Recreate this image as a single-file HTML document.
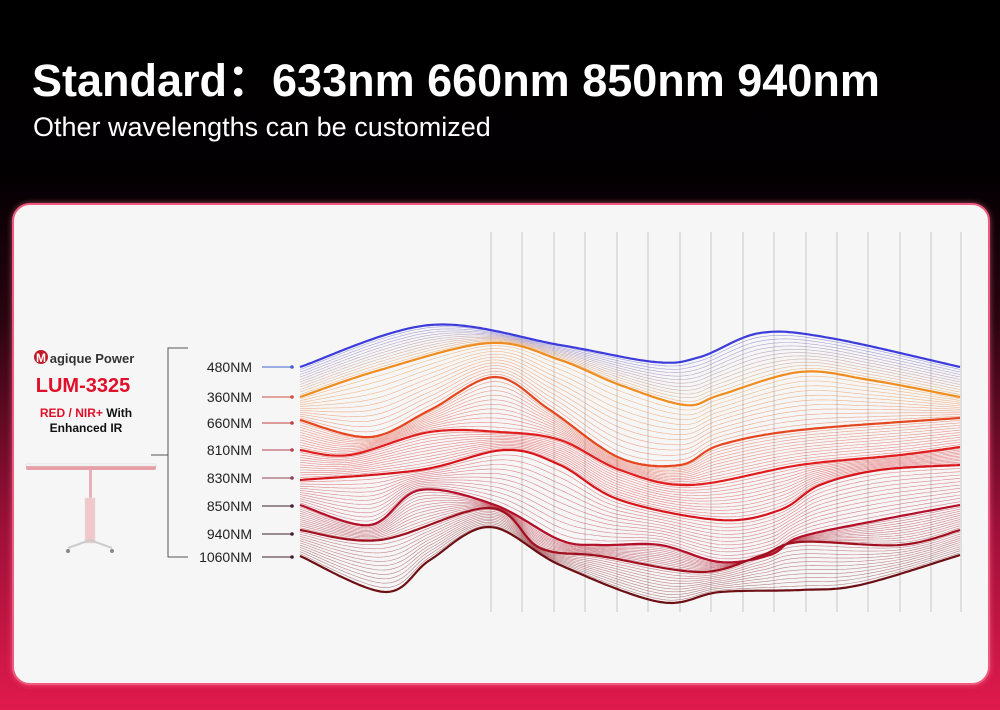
<!DOCTYPE html>
<html><head><meta charset="utf-8"><style>
html,body{margin:0;padding:0;}
body{width:1000px;height:710px;overflow:hidden;position:relative;font-family:"Liberation Sans",Arial,sans-serif;
background:linear-gradient(180deg,#000 0%,#030002 25%,#2a0410 45%,#a0103a 75%,#e01a4c 100%);}
.t1{position:absolute;left:32px;top:44px;color:#fff;font-weight:bold;font-size:45px;white-space:nowrap;font-family:"Liberation Sans","Noto Sans CJK SC",sans-serif}
.t2{position:absolute;left:33px;top:112px;color:#fff;font-size:27px;white-space:nowrap}
.panel{position:absolute;left:12px;top:203px;width:974px;height:478px;background:#f6f6f6;border-radius:18px;border:2px solid #f05a7e;box-shadow:0 0 6px rgba(255,120,150,.6);}
svg{position:absolute;left:0;top:0}
</style></head><body>
<div class="t1">Standard：633nm 660nm 850nm 940nm</div>
<div class="t2">Other wavelengths can be customized</div>
<div class="panel"></div>
<svg width="1000" height="710" id="s">
<g font-family="Liberation Sans,Arial,sans-serif" font-weight="bold" text-anchor="middle">
<circle cx="41" cy="357" r="7" fill="#c01a2a"/><text x="41" y="362" font-size="12" fill="#fff">M</text>
<text x="92" y="363" font-size="13" fill="#333">agique  Power</text>
<text x="83" y="392" font-size="20" fill="#e0102a">LUM-3325</text>
<text x="86" y="417" font-size="12" fill="#e0102a">RED / NIR+ <tspan fill="#111">With</tspan></text>
<text x="86" y="432" font-size="12" fill="#111">Enhanced IR</text>
</g>
<rect x="26" y="465" width="130" height="5" rx="2" fill="#e8a0a8"/>
<rect x="26" y="464" width="130" height="2" fill="#fff" stroke="#ccc" stroke-width="0.5"/>
<rect x="89" y="470" width="3" height="30" fill="#e8b0b8"/>
<rect x="85" y="498" width="10" height="45" fill="#f0c8cc" stroke="#ddd" stroke-width="0.5"/>
<path d="M68 548 L90 540 L112 548" stroke="#ccc" stroke-width="2" fill="none"/>
<circle cx="68" cy="551" r="2" fill="#888"/><circle cx="112" cy="551" r="2" fill="#888"/>
<path d="M188 348 L168 348 L168 557 L188 557 M151 455 L168 455" stroke="#555" stroke-width="1" fill="none"/>
<g id="lab" font-size="14" fill="#222" font-family="Liberation Sans,Arial,sans-serif" text-anchor="end"></g>
<g id="vl"></g><g id="cv"></g>
</svg>
<script>
var NS="http://www.w3.org/2000/svg",s=document.getElementById('s');
function el(p,t,a){var e=document.createElementNS(NS,t);for(var k in a)e.setAttribute(k,a[k]);p.appendChild(e);return e;}
var labs=[["480NM",367],["360NM",397],["660NM",423],["810NM",450],["830NM",478],["850NM",506],["940NM",534],["1060NM",557]];
var lc=["#4060d0","#d05040","#c04040","#b04050","#904050","#402030","#402030","#402030"];
var L=document.getElementById('lab');
labs.forEach(function(l,i){var t=el(L,'text',{x:252,y:l[1]+5});t.textContent=l[0];
el(L,'line',{x1:262,y1:l[1],x2:292,y2:l[1],stroke:lc[i],'stroke-width':1});el(L,'circle',{cx:292,cy:l[1],r:1.8,fill:lc[i]});});
var V=document.getElementById('vl');
[491,522,554,585,617,648,680,711,743,774,806,837,868,900,931,961].forEach(function(x){el(V,'line',{x1:x,y1:232,x2:x,y2:612,stroke:'#aaa','stroke-width':0.6});});
var C=[
[[300,367],[430,325],[560,345],[655,362],[700,357],[760,333],[830,338],[960,367]],
[[300,397],[380,370],[490,343],[560,360],[620,385],[685,405],[720,395],[800,372],[870,380],[960,397]],
[[300,420],[370,437],[430,410],[495,377],[550,410],[620,458],[680,465],[720,445],[800,430],[960,418]],
[[300,450],[350,455],[430,432],[500,432],[560,440],[620,470],[690,485],[800,465],[900,455],[960,447]],
[[300,480],[420,470],[505,450],[560,465],[620,500],[720,520],[780,510],[820,485],[880,470],[960,465]],
[[300,505],[370,525],[420,490],[495,505],[560,540],[600,545],[660,545],[720,562],[770,555],[800,537],[880,520],[960,505]],
[[300,530],[380,540],[490,508],[540,548],[600,556],[700,572],[760,556],[800,542],[900,545],[960,530]],
[[300,556],[385,592],[430,560],[490,527],[560,565],[660,602],[720,592],[800,590],[860,585],[960,555]]];
var cols=[[60,60,220],[240,140,30],[230,70,30],[225,30,30],[215,20,25],[180,15,40],[160,15,30],[110,15,20]];
function dense(c){var p=[c[0]].concat(c).concat([c[c.length-1]]);var out=[];
for(var i=1;i<p.length-2;i++){var p0=p[i-1],p1=p[i],p2=p[i+1],p3=p[i+2];
for(var t=0;t<1;t+=0.02){var t2=t*t,t3=t2*t;var f=function(a,b,c,d){return 0.5*((2*b)+(-a+c)*t+(2*a-5*b+4*c-d)*t2+(-a+3*b-3*c+d)*t3);};
out.push([f(p0[0],p1[0],p2[0],p3[0]),f(p0[1],p1[1],p2[1],p3[1])]);}}out.push(c[c.length-1]);return out;}
function yAt(d,x){for(var i=0;i<d.length-1;i++){if(x<=d[i+1][0]){var t=(x-d[i][0])/((d[i+1][0]-d[i][0])||1);return d[i][1]+(d[i+1][1]-d[i][1])*t;}}return d[d.length-1][1];}
var xs=[];for(var x=300;x<=960;x+=3)xs.push(x);
var Y=C.map(function(c){var d=dense(c);return xs.map(function(x){return yAt(d,x);});});
var G=document.getElementById('cv');
function path(ys){return xs.map(function(x,i){return (i?'L':'M')+x+' '+ys[i].toFixed(1);}).join('');}
for(var k=0;k<7;k++){for(var j=1;j<12;j++){var f=j/12;var ys=Y[k].map(function(y,i){return y+(Y[k+1][i]-y)*f;});
var c=cols[k].map(function(v,n){return Math.round(v+(cols[k+1][n]-v)*f);});
el(G,'path',{d:path(ys),fill:'none',stroke:'rgb('+c.join(',')+')','stroke-width':0.6,'stroke-opacity':0.5});}}
for(var k=0;k<8;k++){el(G,'path',{d:path(Y[k]),fill:'none',stroke:'rgb('+cols[k].join(',')+')','stroke-width':2.2});}
</script>
</body></html>
